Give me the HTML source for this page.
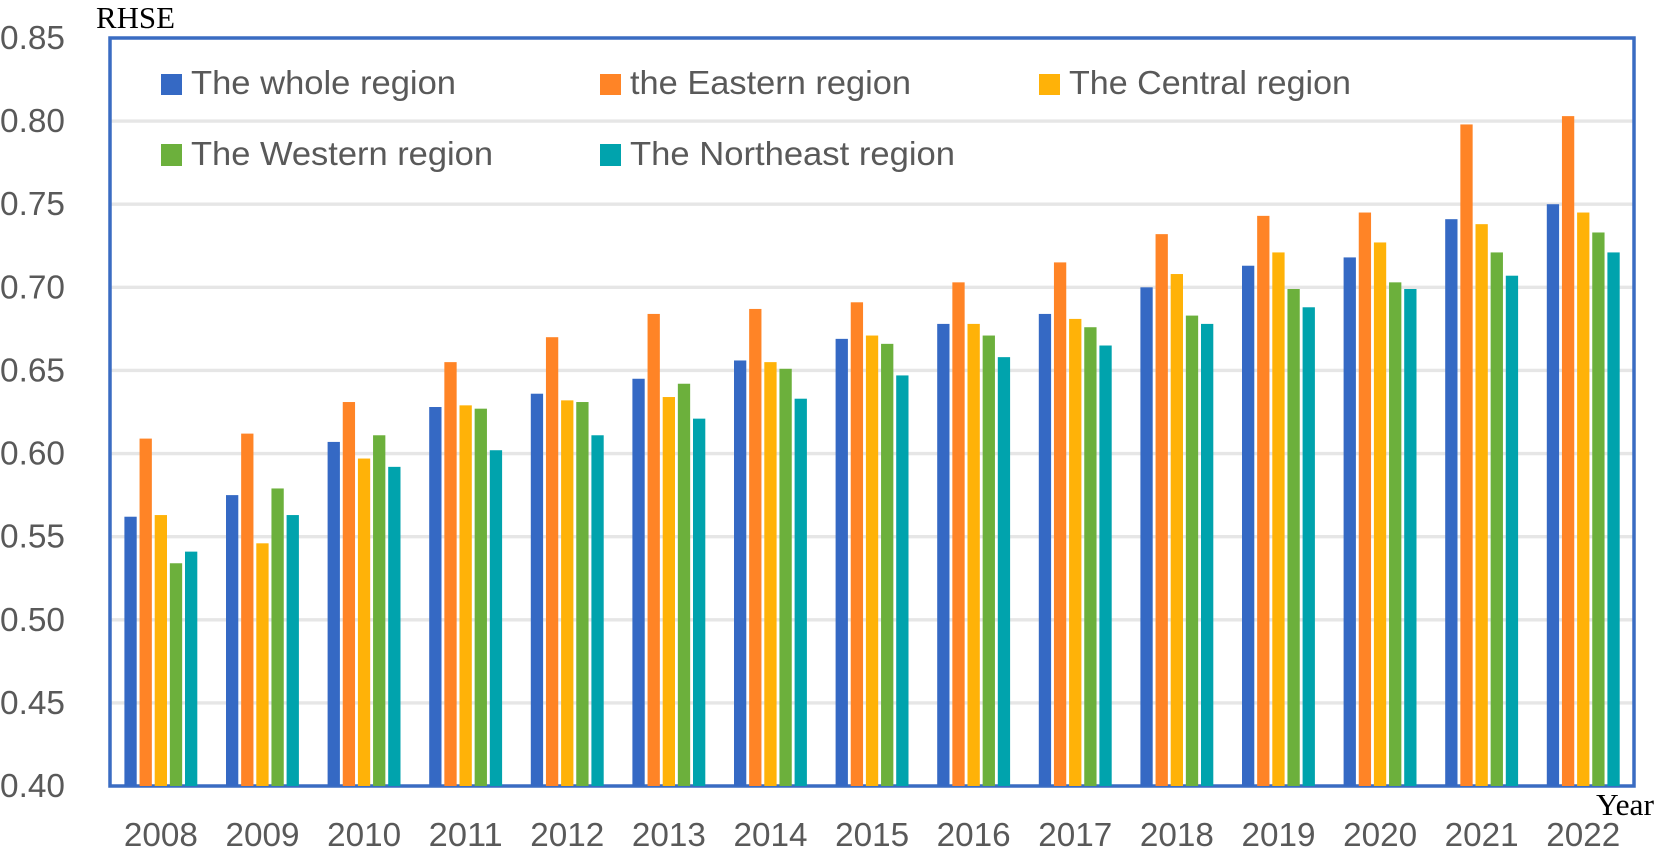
<!DOCTYPE html>
<html lang="en">
<head>
<meta charset="utf-8">
<title>RHSE by region, 2008–2022</title>
<style>
html,body{margin:0;padding:0;background:#fff;width:1654px;height:858px;overflow:hidden}
svg{display:block}
.sans{font-family:"Liberation Sans",sans-serif;fill:#595959}
.serif{font-family:"Liberation Serif",serif;fill:#000}
</style>
</head>
<body>
<svg id="chart" xmlns="http://www.w3.org/2000/svg" width="1654" height="858" viewBox="0 0 1654 858">
  <g id="grid"></g>
  <rect x="110" y="38" width="1524" height="748" fill="none" stroke="#3A6CC2" stroke-width="3.5"></rect>
  <g id="bars"></g>
  <g id="yticks"></g>
  <g id="xticks"></g>
  <text class="serif" x="96" y="28" font-size="31" textLength="79" lengthAdjust="spacingAndGlyphs">RHSE</text>
  <text class="serif" x="1596" y="815" font-size="31" textLength="58" lengthAdjust="spacingAndGlyphs">Year</text>
  <g>
    <rect x="161" y="74" width="21" height="21" fill="#3569C4"></rect>
    <text class="sans" x="191" y="94" font-size="33" textLength="265" lengthAdjust="spacingAndGlyphs">The whole region</text>
    <rect x="600" y="74" width="21" height="21" fill="#FF8426"></rect>
    <text class="sans" x="630" y="94" font-size="33" textLength="281" lengthAdjust="spacingAndGlyphs">the Eastern region</text>
    <rect x="1039" y="74" width="21" height="21" fill="#FFB208"></rect>
    <text class="sans" x="1069" y="94" font-size="33" textLength="282" lengthAdjust="spacingAndGlyphs">The Central region</text>
    <rect x="161" y="144" width="21" height="22" fill="#6CB03C"></rect>
    <text class="sans" x="191" y="165" font-size="33" textLength="302" lengthAdjust="spacingAndGlyphs">The Western region</text>
    <rect x="600" y="144" width="21" height="22" fill="#00A3AD"></rect>
    <text class="sans" x="630" y="165" font-size="33" textLength="325" lengthAdjust="spacingAndGlyphs">The Northeast region</text>
  </g>
</svg>
<script>
const years = ["2008","2009","2010","2011","2012","2013","2014","2015","2016","2017","2018","2019","2020","2021","2022"];
const yTickLabels = ["0.40","0.45","0.50","0.55","0.60","0.65","0.70","0.75","0.80","0.85"];
const wholeRegion = [0.562,0.575,0.607,0.628,0.636,0.645,0.656,0.669,0.678,0.684,0.700,0.713,0.718,0.741,0.750];
const easternRegion = [0.609,0.612,0.631,0.655,0.670,0.684,0.687,0.691,0.703,0.715,0.732,0.743,0.745,0.798,0.803];
const centralRegion = [0.563,0.546,0.597,0.629,0.632,0.634,0.655,0.671,0.678,0.681,0.708,0.721,0.727,0.738,0.745];
const westernRegion = [0.534,0.579,0.611,0.627,0.631,0.642,0.651,0.666,0.671,0.676,0.683,0.699,0.703,0.721,0.733];
const northeastRegion = [0.541,0.563,0.592,0.602,0.611,0.621,0.633,0.647,0.658,0.665,0.678,0.688,0.699,0.707,0.721];
const seriesValues = [wholeRegion, easternRegion, centralRegion, westernRegion, northeastRegion];
const seriesKeys = ["whole","eastern","central","western","northeast"];
const seriesColors = ["#3569C4","#FF8426","#FFB208","#6CB03C","#00A3AD"];

const NS = "http://www.w3.org/2000/svg";
const plot = {left:110, right:1634, top:38, bottom:786};
const yMin = 0.40, yMax = 0.85;
const y = v => plot.bottom - (v - yMin) / (yMax - yMin) * (plot.bottom - plot.top);
const groupStart = 124.4, groupPitch = 101.6, barPitch = 15.15, barWidth = 12.3;
const x = (g, s) => groupStart + g * groupPitch + s * barPitch;

function make(tag, attrs, parent, text) {
  const el = document.createElementNS(NS, tag);
  for (const k in attrs) el.setAttribute(k, attrs[k]);
  if (text !== undefined) el.textContent = text;
  parent.appendChild(el);
  return el;
}

const gridG = document.getElementById("grid");
const yG = document.getElementById("yticks");
const xG = document.getElementById("xticks");
const barsG = document.getElementById("bars");

yTickLabels.forEach(label => {
  const v = parseFloat(label);
  if (v > yMin && v < yMax) {
    const line = make("line", {x1:plot.left, x2:plot.right, y1:y(v), y2:y(v), stroke:"#E6E6E6", "stroke-width":3.4}, gridG);
    
    
  }
  const t = make("text", {x:0, y:y(v) + 11, "font-size":33, class:"sans", textLength:65, lengthAdjust:"spacingAndGlyphs"}, yG, label);
  
  
});

years.forEach((year, g) => {
  const t = make("text", {x:x(g, 0) + 36.5, y:846, "font-size":33, class:"sans", "text-anchor":"middle", textLength:74, lengthAdjust:"spacingAndGlyphs"}, xG, year);
  
  
});

seriesValues.forEach((values, s) => {
  values.forEach((v, g) => {
    const top = y(v);
    const r = make("rect", {x:x(g, s), y:top, width:barWidth, height:plot.bottom - top, fill:seriesColors[s]}, barsG);
    
    
  });
});
</script>
</body>
</html>
